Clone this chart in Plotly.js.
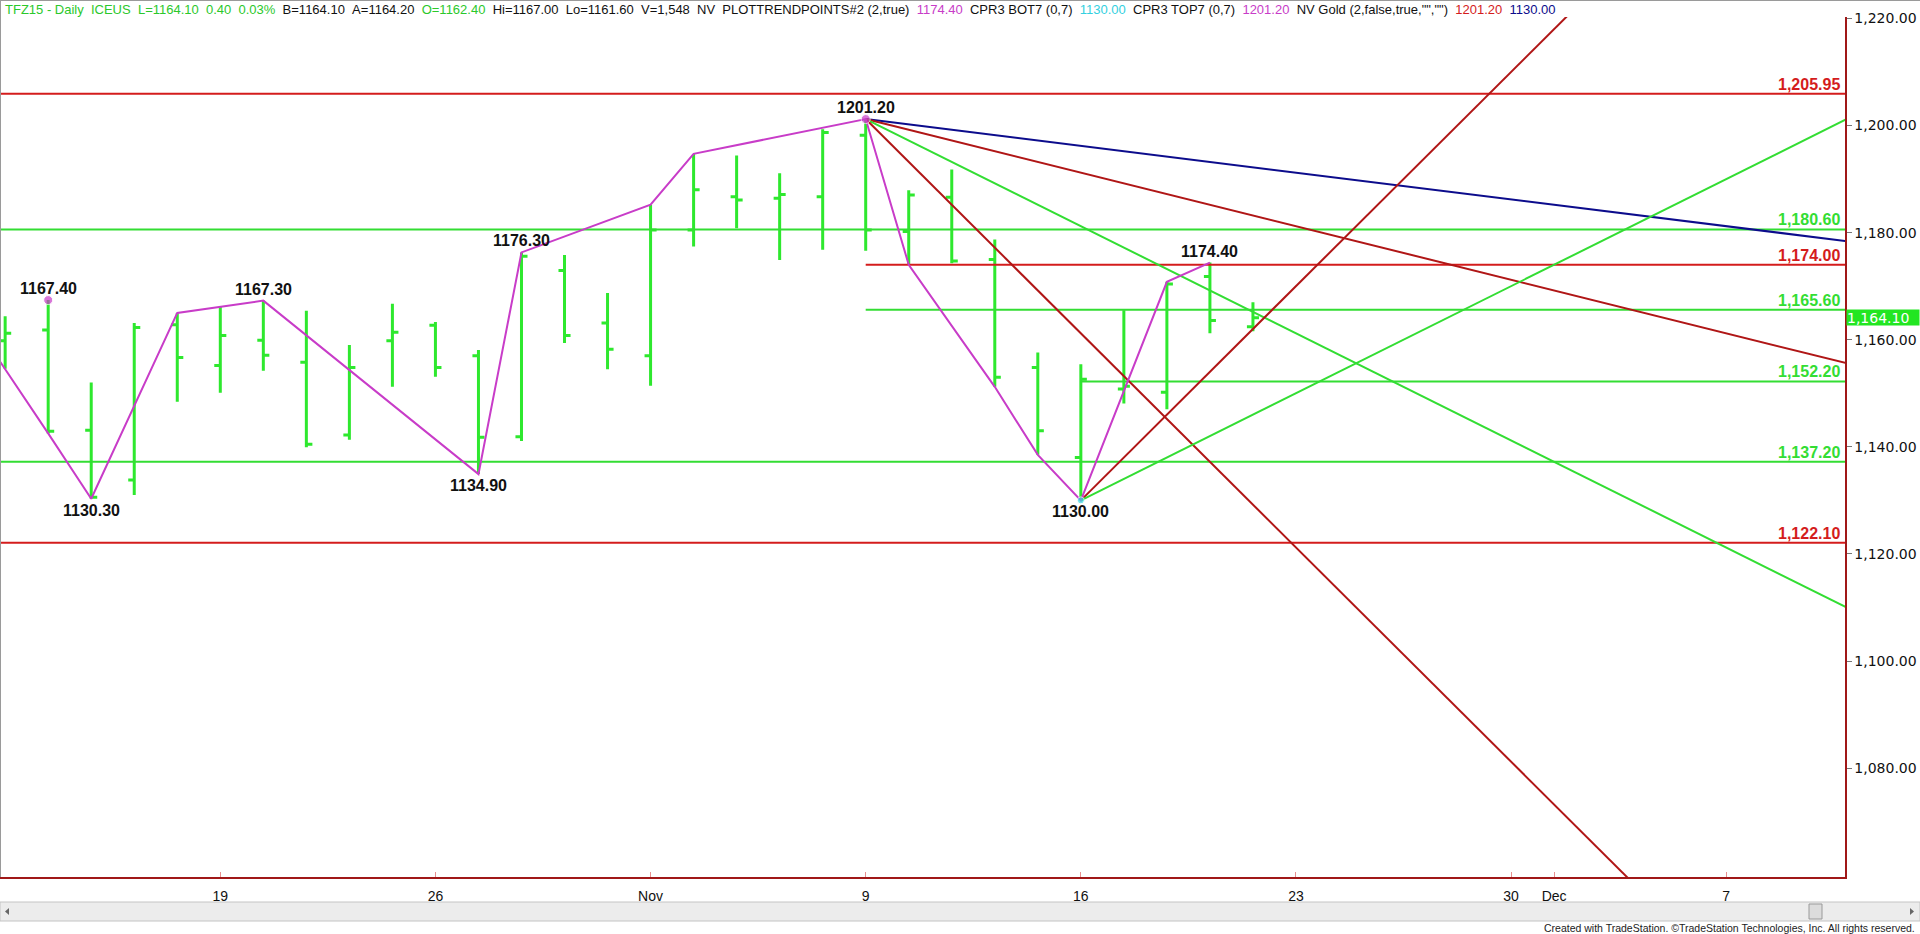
<!DOCTYPE html>
<html><head><meta charset="utf-8">
<script src="https://cdn.plot.ly/plotly-3.0.1.min.js"></script>
<style>html,body{margin:0;padding:0;background:#fff;overflow:hidden}#chart{width:1920px;height:934px}</style>
</head><body><div id="chart"></div>
<script>
// ---- data ----
const dates = ['2015-10-12','2015-10-13','2015-10-14','2015-10-15','2015-10-16',
  '2015-10-19','2015-10-20','2015-10-21','2015-10-22','2015-10-23',
  '2015-10-26','2015-10-27','2015-10-28','2015-10-29','2015-10-30',
  '2015-11-02','2015-11-03','2015-11-04','2015-11-05','2015-11-06',
  '2015-11-09','2015-11-10','2015-11-11','2015-11-12','2015-11-13',
  '2015-11-16','2015-11-17','2015-11-18','2015-11-19','2015-11-20'];
const opens  = [1159.8,1161.8,1143.1,1133.8,1162.8,1155.2,1159.9,1155.8,1142.2,1159.8,
                1162.7,1157.0,1141.9,1172.9,1163.1,1157.0,1180.5,1186.7,1186.4,1186.7,
                1198.2,1180.2,1186.6,1175.0,1154.8,1138.0,1150.8,1150.2,1171.8,1162.4];
const highs  = [1164.4,1167.4,1152.0,1163.1,1165.0,1166.3,1167.3,1165.4,1159.0,1166.7,
                1163.3,1158.1,1176.3,1175.8,1168.7,1185.2,1194.7,1194.4,1191.1,1199.3,
                1201.2,1187.9,1191.8,1178.7,1157.6,1155.4,1165.5,1170.8,1174.4,1167.0];
const lows   = [1154.6,1142.5,1130.3,1131.0,1148.4,1150.1,1154.2,1139.9,1141.3,1151.2,
                1153.1,1134.9,1141.1,1159.4,1154.5,1151.4,1177.4,1180.8,1174.9,1176.8,
                1176.6,1174.0,1174.3,1151.2,1138.5,1130.0,1148.1,1147.0,1161.2,1161.6];
const closes = [1161.2,1142.9,1130.6,1162.3,1156.7,1160.8,1157.1,1140.5,1154.8,1161.4,
                1154.8,1141.8,1175.6,1160.8,1158.2,1180.5,1188.0,1186.1,1187.1,1198.7,
                1180.5,1187.0,1174.7,1153.0,1143.0,1152.6,1151.3,1170.4,1163.6,1164.1];
const tickIdx  = [5,10,15,20,25,30,35,36,40];
const tickText = ['19','26','Nov','9','16','23','30','Dec','7'];
const priceTicks = [1080,1100,1120,1140,1160,1180,1200,1220];
const levelValues   = [1205.95,1180.60,1174.00,1165.60,1152.20,1137.20,1122.10];
const levelStartIdx = [-1,-1,20,20,25,-1,-1];
const levelKind     = ['red','green','red','green','green','green','red'];
const gannOriginIdx   = [20,20,20,20,25,25];
const gannOriginPrice = [1201.20,1201.20,1201.20,1201.20,1130.00,1130.00];
const gannSlope       = [-1,-2,-4,-8,8,4];
const gannKind        = ['navy','darkred','green','darkred','darkred','green'];
const swingIdx   = [-1,0,1,2,4,6,11,12,15,16,20,21,23,24,25,27,28];
const swingPrice = [1166.5,1154.6,1142.5,1130.3,1165.0,1167.3,1134.9,1176.3,1185.2,1194.7,
                    1201.2,1174.0,1151.2,1138.5,1130.0,1170.8,1174.4];
const pivotIdx   = [1,2,6,11,12,20,25,28];
const pivotPrice = [1167.40,1130.30,1167.30,1134.90,1176.30,1201.20,1130.00,1174.40];
const pivotSide  = ['top','bottom','top','bottom','top','top','bottom','top'];
const dotIdx   = [1,20,25];
const dotPrice = [1167.40,1201.20,1130.00];
const dotKind  = ['magenta','magenta','cyan'];
const lastPrice = 1164.10;

// ---- styles ----
const COL = {green:'#33dd33', bar:'#2ee82e', red:'#d41c1c', darkred:'#b01616', navy:'#0c0c8c',
             magenta:'#c83cc8', cyan:'#33d6e0'};
const xIdx = dates.map((d,i)=>i);
const X_END = 44;
const traces = [];
traces.push({type:'ohlc', x:xIdx, open:opens, high:highs, low:lows, close:closes,
  increasing:{line:{color:COL.bar, width:3}}, decreasing:{line:{color:COL.bar, width:3}},
  tickwidth:0.14, hoverinfo:'skip', showlegend:false});
levelValues.forEach((v,i)=>{
  traces.push({type:'scatter', mode:'lines', x:[levelStartIdx[i], X_END], y:[v,v],
    line:{color:COL[levelKind[i]], width:2}, hoverinfo:'skip', showlegend:false});
});
gannOriginIdx.forEach((x0,i)=>{
  const p0 = gannOriginPrice[i];
  traces.push({type:'scatter', mode:'lines', x:[x0, X_END], y:[p0, p0 + gannSlope[i]*(X_END-x0)],
    line:{color:COL[gannKind[i]], width:2}, hoverinfo:'skip', showlegend:false});
});
traces.push({type:'scatter', mode:'lines', x:swingIdx, y:swingPrice,
  line:{color:COL.magenta, width:2}, hoverinfo:'skip', showlegend:false});
traces.push({type:'scatter', mode:'markers', x:dotIdx, y:dotPrice,
  marker:{color:dotKind.map(k=>COL[k]), size:dotKind.map(k=>k==='cyan'?7:9)},
  hoverinfo:'skip', showlegend:false});

// pixel helpers for decorations outside the plot
const PL=0, PR=1845, PT=17, PB=877;
const px = x => (x-PL)/(PR-PL);
const py = y => (PB-y)/(PB-PT);

const FONT = 'Arial, "Liberation Sans", sans-serif';
const ann = [];
pivotIdx.forEach((x,i)=>{
  ann.push({x:x, y:pivotPrice[i], xref:'x', yref:'y', text:pivotPrice[i].toFixed(2), showarrow:false,
    yanchor: pivotSide[i]==='top'?'bottom':'top', yshift: pivotSide[i]==='top'?1:-1,
    font:{family:FONT, size:16, color:'#111', weight:'bold'}});
});
levelValues.forEach((v,i)=>{
  ann.push({x:1, y:v, xref:'paper', yref:'y', xanchor:'right', yanchor:'bottom', xshift:-3, yshift:-1,
    text:v.toLocaleString('en-US',{minimumFractionDigits:2, maximumFractionDigits:2}), showarrow:false,
    font:{family:FONT, size:16, color:COL[levelKind[i]], weight:'bold'}});
});
ann.push({x:1, y:lastPrice, xref:'paper', yref:'y', xanchor:'left', yanchor:'middle', xshift:1,
  text:lastPrice.toLocaleString('en-US',{minimumFractionDigits:2}), showarrow:false,
  bgcolor:'#22e622', width:72, height:15, align:'left', borderpad:0,
  font:{family:'"DejaVu Sans", sans-serif', size:14, color:'#ffffff'}});
const S = '\u00a0\u00a0';
const sp = (c,t)=>'<span style="color:'+c+'">'+t+'</span>';
const header = sp('#2bc82b','TFZ15 - Daily'+S+'ICEUS'+S+'L=1164.10'+S+'0.40'+S+'0.03%')+S+
  sp('#111','B=1164.10'+S+'A=1164.20')+S+sp('#2bc82b','O=1162.40')+S+
  sp('#111','Hi=1167.00'+S+'Lo=1161.60'+S+'V=1,548'+S+'NV'+S+'PLOTTRENDPOINTS#2 (2,true)')+S+
  sp(COL.magenta,'1174.40')+S+sp('#111','CPR3 BOT7 (0,7)')+S+sp('#33d0e0','1130.00')+S+
  sp('#111','CPR3 TOP7 (0,7)')+S+sp(COL.magenta,'1201.20')+S+
  sp('#111','NV Gold (2,false,true,"","")')+S+sp(COL.red,'1201.20')+S+sp(COL.navy,'1130.00');
ann.push({x:px(3), y:py(10), xref:'paper', yref:'paper', xanchor:'left', yanchor:'middle',
  text:header, showarrow:false, font:{family:FONT, size:13, color:'#111'}});
ann.push({x:px(1917), y:py(928), xref:'paper', yref:'paper', xanchor:'right', yanchor:'middle',
  text:'Created with TradeStation. \u00a9TradeStation Technologies, Inc. All rights reserved.', showarrow:false,
  font:{family:FONT, size:10.5, color:'#222'}});

const shapes = [
  {type:'rect', xref:'paper', yref:'paper', x0:px(0), x1:px(1920), y0:py(921), y1:py(902),
   fillcolor:'#ececec', line:{color:'#c4c4c4', width:1}, layer:'above'},
  {type:'rect', xref:'paper', yref:'paper', x0:px(1809), x1:px(1822), y0:py(919), y1:py(904),
   fillcolor:'#dcdcdc', line:{color:'#9a9a9a', width:1}, layer:'above'},
  {type:'path', xref:'paper', yref:'paper', path:'M '+px(5)+' '+py(911.5)+' L '+px(9)+' '+py(908)+' L '+px(9)+' '+py(915)+' Z',
   fillcolor:'#666', line:{width:0}},
  {type:'path', xref:'paper', yref:'paper', path:'M '+px(1914)+' '+py(911.5)+' L '+px(1910)+' '+py(908)+' L '+px(1910)+' '+py(915)+' Z',
   fillcolor:'#666', line:{width:0}},
  {type:'line', xref:'paper', yref:'paper', x0:px(0.5), x1:px(0.5), y0:py(0), y1:py(877),
   line:{color:'#9a9a9a', width:1}},
  {type:'line', xref:'paper', yref:'paper', x0:px(0), x1:px(1920), y0:py(0.5), y1:py(0.5),
   line:{color:'#9a9a9a', width:1}}
];

const layout = {
  width:1920, height:934, margin:{l:PL, r:1920-PR, t:PT, b:934-PB, pad:0},
  paper_bgcolor:'#ffffff', plot_bgcolor:'#ffffff', showlegend:false, dragmode:false,
  xaxis:{range:[-0.12,42.76], tickmode:'array', tickvals:tickIdx, ticktext:tickText,
    showgrid:false, zeroline:false, showline:true, linecolor:'#a01818', linewidth:1.5,
    ticks:'inside', ticklen:5, tickcolor:'#e89090', ticklabelstandoff:6,
    tickfont:{family:FONT, size:14, color:'#111'}, rangeslider:{visible:false}, fixedrange:true},
  yaxis:{side:'right', range:[1059.67,1220.26], tickmode:'array', tickvals:priceTicks,
    tickformat:',.2f', showgrid:false, zeroline:false, showline:true, linecolor:'#a01818', linewidth:1.5,
    ticks:'outside', ticklen:5, tickcolor:'#777', tickfont:{family:'"DejaVu Sans", sans-serif', size:14, color:'#111'},
    fixedrange:true},
  annotations:ann, shapes:shapes
};
Plotly.newPlot('chart', traces, layout, {staticPlot:true, displayModeBar:false});
</script></body></html>
